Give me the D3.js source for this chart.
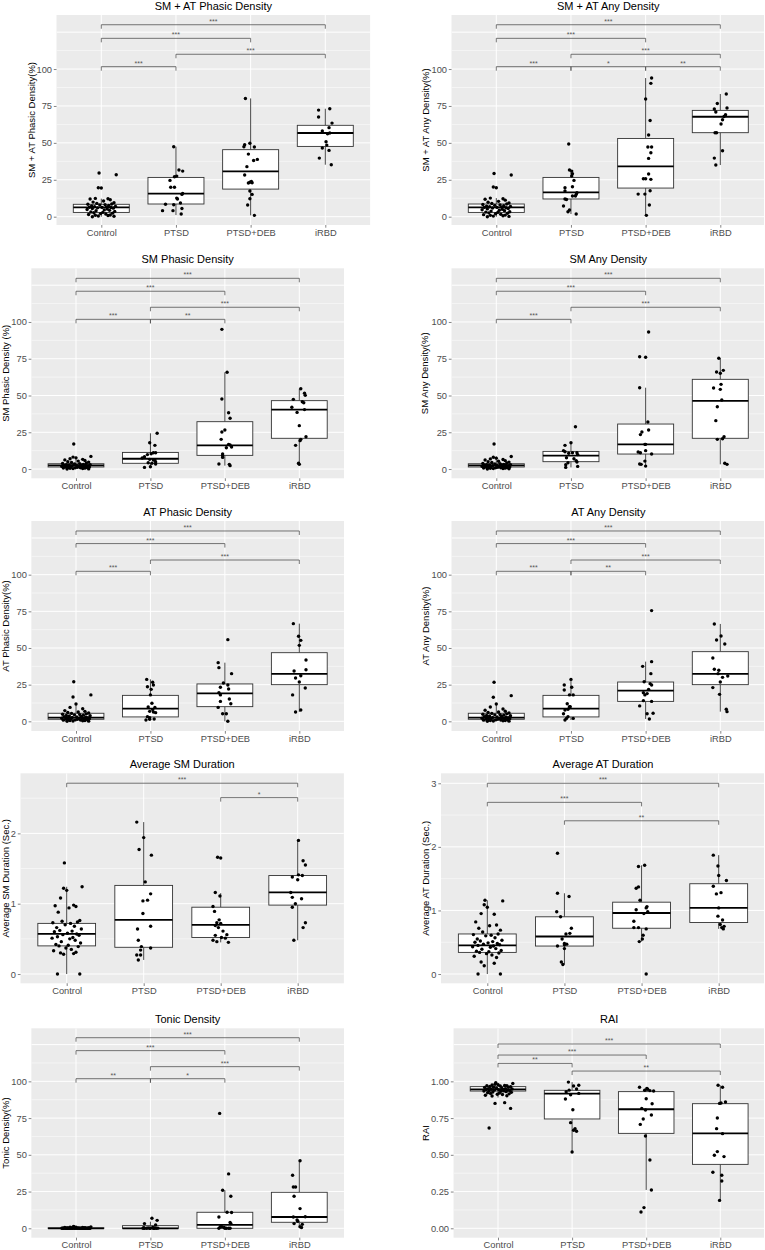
<!DOCTYPE html>
<html><head><meta charset="utf-8">
<script src="https://cdn.jsdelivr.net/npm/d3@7"></script>
<style>
body{margin:0;background:#fff}
svg{display:block}
text{font-family:"Liberation Sans",Arial,Helvetica,sans-serif}
</style>
</head><body>
<svg id="chart" width="765" height="1250"></svg>
<script>
// ---------------- DATA ----------------
const categories = ["Control", "PTSD", "PTSD+DEB", "iRBD"];
const titles = ["SM + AT Phasic Density","SM + AT Any Density","SM Phasic Density","SM Any Density",
  "AT Phasic Density","AT Any Density","Average SM Duration","Average AT Duration","Tonic Density","RAI"];
const yTitles = ["SM + AT Phasic Density(%)","SM + AT Any Density(%)","SM Phasic Density (%)","SM Any Density(%)",
  "AT Phasic Density(%)","AT Any Density(%)","Average SM Duration (Sec.)","Average AT Duration (Sec.)","Tonic Density(%)","RAI"];
const ticksPct = [0, 25, 50, 75, 100];
const ticksSM = [0, 1, 2];
const ticksAT = [0, 1, 2, 3];
const ticksRAI = [0, 0.25, 0.5, 0.75, 1];

// jitter offsets (fraction of category spacing) shared by the Control cluster, sorted by value desc
const controlJitter = [-0.03,0.20,-0.04,0.00,-0.08,0.09,-0.15,0.12,0.03,-0.11,0.17,-0.06,0.14,-0.18,0.05,-0.02,
  0.10,-0.13,0.19,-0.09,0.07,-0.16,0.01,0.13,-0.05,0.16,-0.12,0.08,-0.19,0.04,0.11,-0.07,0.18,-0.14,0.02,-0.10,
  0.15,-0.01,0.06,-0.17,0.12,-0.08,0.09,-0.04,0.17,-0.12];

// Panel 1: SM + AT Phasic Density
const smatPhasicControl = [29.6,28.4,19.6,19.4,12.4,12.2,12.0,11.5,10.6,9.9,9.5,9.0,8.6,8.4,8.2,7.9,7.6,7.3,7.0,6.8,6.6,6.4,6.3,6.2,6.0,5.8,5.5,5.2,4.9,4.6,4.3,4.0,3.6,3.2,2.9,2.7,2.4,2.1,1.8,1.5,1.2,1.0,0.8,0.5,0.3,0.0];
const smatPhasicPTSD = [[-0.03,47.4],[0.04,31.6],[0.09,30.9],[-0.02,27.1],[0.01,27.5],[-0.08,24.6],[-0.07,19.9],[-0.02,19.9],[0.09,15.8],[0.08,15.1],[0.01,12.6],[0.02,12.0],[-0.14,8.4],[0.06,9.3],[-0.03,8.1],[-0.04,4.1],[0.08,5.6],[-0.18,4.1],[0.07,1.8]];
const smatPhasicDEB = [[-0.07,80.1],[-0.01,49.7],[-0.08,48.8],[-0.09,47.4],[0.05,47.2],[-0.03,42.4],[0.09,38.8],[0.04,38.1],[-0.05,33.9],[-0.08,28.2],[-0.01,23.3],[0.01,23.9],[-0.03,22.8],[0.02,23.0],[-0.01,17.4],[0.02,15.1],[-0.01,12.2],[-0.04,7.9],[0.05,0.9]];
const smatPhasicIRBD = [[-0.09,72.2],[0.06,73.1],[-0.09,67.5],[0.09,63.4],[0.05,60.3],[-0.04,58.0],[0.03,56.2],[0.06,56.7],[0.01,50.8],[0.02,48.5],[-0.04,46.5],[0.05,44.9],[-0.08,39.7],[0.08,35.2]];
const smatPhasicBox = [[0,2.9,6.3,8.4,12.2],[1.1,8.6,15.6,26.6,47.4],[0.9,18.7,30.7,45.4,80.1],[35.2,47.6,56.7,61.9,73.1]];
const smatPhasicSig = [[1,4,130,"***"],[1,3,120.8,"***"],[2,4,110,"***"],[1,2,101.6,"***"]];

// Panel 2: SM + AT Any Density
const smatAnyControl = [29.3,28.2,20.1,19.6,12.6,12.2,11.8,11.2,10.4,9.8,9.3,8.9,8.6,8.3,8.0,7.7,7.4,7.1,6.9,6.7,6.5,6.3,6.3,6.1,5.9,5.6,5.3,5.0,4.7,4.4,4.1,3.8,3.4,3.1,2.9,2.6,2.3,2.0,1.7,1.4,1.1,0.9,0.6,0.4,0.2,0.0];
const smatAnyPTSD = [[-0.03,49.2],[-0.02,31.6],[0.01,30.9],[0.02,29.1],[0.01,27.5],[0.04,24.6],[-0.08,19.6],[0.02,20.3],[-0.08,17.4],[0.08,16.3],[0.07,15.1],[0.06,14.0],[0.02,14.0],[-0.08,12.0],[-0.06,11.7],[-0.10,7.2],[-0.02,4.5],[-0.04,3.4],[0.07,1.8]];
const smatAnyDEB = [[0.08,93.9],[0.07,90.3],[0.0,79.7],[0.06,65.2],[0.04,55.3],[0.03,47.2],[0.08,47.2],[0.07,43.3],[0.04,39.5],[0.04,28.9],[-0.03,25.7],[0.0,25.7],[0.07,25.3],[0.06,17.6],[-0.10,15.3],[-0.01,15.3],[0.05,7.9],[0.01,0.9]];
const smatAnyIRBD = [[0.08,83.1],[-0.04,76.7],[-0.08,72.9],[0.09,73.6],[-0.06,70.9],[0.07,69.1],[0.05,67.9],[0.03,65.7],[0.01,62.8],[-0.07,56.9],[-0.05,56.9],[0.03,44.7],[-0.08,39.7],[-0.06,35.0]];
const smatAnyBox = [[0,2.9,6.3,8.6,12.6],[1.8,12.0,16.5,26.6,31.6],[0.9,19.4,34.1,53.0,93.9],[35.0,56.9,67.7,72.0,83.1]];
const smatAnySig = [[1,4,130,"***"],[1,3,120.8,"***"],[2,4,110,"***"],[1,2,101.6,"***"],[2,3,101.6,"*"],[3,4,101.6,"**"]];

// Panel 3: SM Phasic Density
const smPhasicControl = [17.0,8.6,8.1,7.6,7.0,6.6,6.2,5.8,5.4,5.0,4.7,4.4,4.1,3.8,3.6,3.4,3.2,3.0,2.9,2.8,2.6,2.5,2.5,2.4,2.3,2.2,2.0,1.9,1.8,1.7,1.6,1.5,1.4,1.3,1.2,1.1,1.0,0.9,0.8,0.7,0.6,0.5,0.4,0.3,0.1,0.0];
const smPhasicPTSD = [[0.09,24.3],[-0.01,17.9],[0.06,16.1],[0.04,11.1],[0.07,11.1],[0.01,10.4],[-0.04,9.8],[-0.08,8.4],[-0.11,7.5],[-0.01,6.6],[0.06,6.1],[0.04,6.1],[0.07,4.8],[-0.03,4.3],[0.02,3.9],[0.07,3.4],[0.0,1.6],[-0.08,1.1]];
const smPhasicDEB = [[-0.04,95.0],[0.03,65.8],[-0.04,47.6],[0.05,38.3],[0.07,34.5],[0.0,26.5],[-0.04,25.2],[-0.05,20.2],[0.05,16.8],[0.07,16.3],[0.02,14.5],[0.09,15.0],[-0.03,10.2],[-0.03,9.1],[-0.03,7.9],[-0.08,3.4],[0.06,3.2],[0.07,2.3]];
const smPhasicIRBD = [[0.02,54.6],[-0.08,47.4],[0.07,51.5],[0.08,50.1],[0.04,45.8],[0.06,45.1],[-0.10,42.0],[0.07,40.4],[-0.03,38.5],[0.0,29.5],[0.09,22.0],[0.02,20.2],[0.01,19.3],[-0.05,16.1],[-0.01,3.9],[0.0,3.2]];
const smPhasicBox = [[0,1.4,2.5,3.6,8.6],[1.1,3.9,7.0,11.3,24.3],[2.3,9.3,16.1,32.2,65.8],[3.2,20.9,40.4,46.5,54.6]];
const smPhasicSig = [[1,4,129.7,"***"],[1,3,120.9,"***"],[2,4,110,"***"],[1,2,101.8,"***"],[2,3,101.8,"**"]];

// Panel 4: SM Any Density
const smAnyControl = [17.0,8.5,8.0,7.4,6.9,6.5,6.1,5.7,5.3,5.0,4.7,4.4,4.1,3.8,3.6,3.4,3.2,3.0,2.9,2.8,2.7,2.6,2.5,2.4,2.3,2.2,2.0,1.9,1.8,1.7,1.6,1.5,1.4,1.3,1.2,1.1,1.0,0.9,0.8,0.7,0.6,0.5,0.4,0.3,0.2,0.0];
const smAnyPTSD = [[0.06,28.8],[0.0,17.9],[-0.08,16.1],[-0.10,12.5],[-0.08,11.8],[0.02,11.1],[-0.03,10.7],[0.08,11.1],[0.09,9.8],[-0.06,7.7],[0.04,7.0],[0.07,5.7],[0.08,4.8],[-0.04,4.3],[-0.07,2.9],[-0.07,1.1],[0.09,1.8]];
const smAnyDEB = [[0.04,93.2],[-0.08,76.4],[0.0,76.0],[-0.08,55.3],[0.03,32.0],[0.04,26.5],[-0.05,25.2],[-0.07,23.4],[0.0,16.8],[-0.01,16.8],[-0.10,11.6],[-0.07,11.1],[0.0,12.5],[0.08,10.2],[-0.08,3.4],[-0.06,3.2],[-0.01,5.4],[0.0,2.0]];
const smAnyIRBD = [[-0.02,75.3],[-0.05,66.0],[0.0,65.1],[0.04,67.1],[0.01,57.6],[0.0,54.2],[-0.09,55.1],[0.02,46.9],[-0.04,42.4],[-0.06,32.9],[0.05,22.0],[0.03,20.6],[-0.04,20.2],[0.06,3.9],[0.09,3.2]];
const smAnyBox = [[0,1.4,2.5,3.6,8.5],[1.1,5.0,9.1,12.0,17.9],[2.0,10.2,16.8,30.6,55.3],[3.2,20.9,46.4,61.0,75.3]];
const smAnySig = [[1,4,129.7,"***"],[1,3,120.9,"***"],[2,4,110,"***"],[1,2,101.8,"***"]];

// Panel 5: AT Phasic Density
const atPhasicControl = [27.0,18.0,16.6,11.8,9.5,8.6,7.3,6.8,6.4,6.0,5.7,5.4,5.1,4.8,4.6,4.4,4.2,4.0,3.8,3.6,3.4,3.2,3.0,2.8,2.6,2.5,2.4,2.3,2.1,2.0,1.9,1.8,1.7,1.5,1.4,1.3,1.2,1.0,0.9,0.8,0.6,0.5,0.4,0.2,0.1,0.0];
const atPhasicPTSD = [[-0.05,28.6],[0.03,26.6],[-0.04,23.6],[0.04,24.8],[0.01,21.8],[0.0,18.0],[0.02,12.3],[0.06,9.5],[-0.03,9.8],[0.03,8.0],[-0.01,6.8],[0.04,6.4],[0.07,5.9],[-0.01,2.5],[-0.04,3.2],[-0.06,0.9],[-0.01,1.4],[0.05,1.6]];
const atPhasicDEB = [[0.04,55.7],[-0.09,40.0],[-0.08,36.6],[0.09,32.5],[-0.02,26.1],[0.04,24.8],[-0.06,23.2],[0.05,22.0],[-0.08,19.5],[-0.06,18.0],[0.06,15.2],[-0.06,13.6],[0.08,12.0],[-0.09,9.5],[-0.03,5.2],[0.02,5.2],[0.04,0.0]];
const atPhasicIRBD = [[-0.08,66.6],[-0.01,58.0],[0.02,55.2],[0.0,51.8],[0.09,41.8],[-0.07,34.3],[0.09,35.2],[0.02,31.1],[-0.05,29.5],[0.0,26.8],[0.08,22.7],[-0.09,18.0],[0.02,7.7],[-0.05,6.4]];
const atPhasicBox = [[0,1.4,2.5,5.5,11.8],[0.9,3.0,8.6,17.7,28.6],[0,10.0,19.1,25.5,40.0],[6.4,25.0,32.3,46.8,66.6]];
const atPhasicSig = [[1,4,129.8,"***"],[1,3,121.2,"***"],[2,4,110,"***"],[1,2,102.3,"***"]];

// Panel 6: AT Any Density
const atAnyControl = [26.6,17.5,16.4,11.8,9.8,8.4,7.5,6.9,6.4,6.0,5.7,5.4,5.1,4.8,4.6,4.4,4.2,4.0,3.8,3.6,3.4,3.2,3.0,2.8,2.6,2.5,2.4,2.3,2.1,2.0,1.9,1.8,1.7,1.5,1.4,1.3,1.2,1.0,0.9,0.8,0.6,0.5,0.4,0.2,0.1,0.0];
const atAnyPTSD = [[0.0,28.6],[-0.09,24.8],[0.01,23.2],[-0.09,21.4],[-0.02,18.0],[0.03,18.0],[-0.05,12.0],[-0.02,10.0],[-0.04,8.2],[-0.08,7.7],[-0.10,5.2],[-0.04,3.2],[0.03,2.0],[-0.08,0.9],[-0.06,2.0],[-0.01,10.0]];
const atAnyDEB = [[0.08,75.5],[0.08,40.7],[-0.04,37.5],[0.07,32.5],[-0.02,27.0],[0.06,25.7],[0.08,24.8],[0.04,21.8],[-0.03,19.5],[0.02,18.9],[-0.01,18.0],[-0.03,14.1],[0.08,13.6],[-0.08,10.5],[0.02,5.2],[0.10,5.5],[0.05,1.6]];
const atAnyIRBD = [[-0.08,66.4],[0.01,58.2],[-0.05,55.5],[0.06,52.7],[-0.10,43.2],[-0.08,35.5],[-0.02,34.8],[0.03,30.0],[0.10,30.9],[-0.03,32.5],[0.0,26.8],[-0.10,23.0],[-0.01,18.4],[0.08,8.2],[0.09,6.6]];
const atAnyBox = [[0,1.4,2.5,5.5,11.8],[0.9,3.0,8.6,17.7,28.6],[1.6,13.6,20.9,26.8,40.7],[6.6,25.0,32.3,47.5,66.4]];
const atAnySig = [[1,4,129.8,"***"],[1,3,121.2,"***"],[2,4,110,"***"],[1,2,102.3,"***"],[2,3,102.3,"**"]];

// Panel 7: Average SM Duration
const smDurControl = [1.58,1.24,1.22,1.19,1.08,0.98,0.97,0.96,0.94,0.88,0.76,0.75,0.74,0.73,0.72,0.70,0.68,0.66,0.64,0.62,0.61,0.60,0.58,0.57,0.56,0.55,0.53,0.52,0.51,0.50,0.48,0.46,0.44,0.42,0.41,0.40,0.39,0.37,0.35,0.33,0.31,0.30,0.29,0.28,0.0,0.0];
const smDurPTSD = [[-0.09,2.16],[0.0,1.94],[-0.06,1.77],[0.10,1.69],[0.02,1.31],[0.09,1.14],[0.05,1.05],[-0.01,1.04],[-0.01,0.86],[0.09,0.68],[-0.08,0.64],[-0.07,0.48],[-0.03,0.39],[0.09,0.37],[-0.04,0.34],[-0.09,0.27],[-0.04,0.27],[-0.07,0.20]];
const smDurDEB = [[-0.04,1.66],[0.0,1.65],[-0.07,1.16],[-0.01,1.11],[-0.10,0.96],[-0.08,0.89],[-0.02,0.77],[-0.05,0.73],[0.0,0.72],[-0.07,0.69],[-0.03,0.66],[0.03,0.61],[-0.07,0.55],[0.08,0.56],[0.01,0.52],[0.06,0.51],[-0.10,0.48],[-0.05,0.46],[0.10,0.45]];
const smDurIRBD = [[0.01,1.90],[0.07,1.61],[0.10,1.55],[0.06,1.40],[0.01,1.41],[-0.07,1.38],[0.0,1.34],[-0.09,1.16],[-0.07,1.09],[0.05,1.07],[-0.03,1.00],[-0.07,0.95],[0.10,0.73],[0.07,0.66],[-0.05,0.48]];
const smDurBox = [[0,0.40,0.57,0.72,1.24],[0.20,0.38,0.77,1.26,2.16],[0.45,0.52,0.70,0.95,1.15],[0.48,0.98,1.16,1.40,1.90]];
const smDurSig = [[1,4,2.713,"***"],[3,4,2.508,"*"]];

// Panel 8: Average AT Duration
const atDurControl = [1.16,1.15,1.09,1.05,0.95,0.94,0.82,0.77,0.76,0.72,0.69,0.66,0.63,0.62,0.61,0.60,0.57,0.55,0.53,0.52,0.51,0.50,0.49,0.48,0.47,0.46,0.45,0.44,0.43,0.42,0.40,0.39,0.37,0.36,0.35,0.34,0.33,0.32,0.30,0.28,0.26,0.19,0.17,0.13,0.0,0.0];
const atDurPTSD = [[-0.09,1.90],[-0.09,1.27],[0.06,1.22],[-0.10,0.98],[-0.05,0.90],[0.09,0.72],[0.07,0.64],[0.02,0.63],[-0.03,0.55],[0.0,0.48],[0.03,0.47],[0.0,0.46],[-0.09,0.44],[0.0,0.40],[-0.04,0.19],[-0.02,0.15]];
const atDurDEB = [[0.04,1.71],[-0.04,1.69],[-0.07,1.35],[-0.04,1.37],[-0.02,1.16],[0.07,1.06],[0.06,1.04],[-0.07,1.01],[0.08,0.98],[0.03,0.95],[-0.10,0.83],[-0.10,0.73],[-0.04,0.73],[0.06,0.71],[0.02,0.61],[0.01,0.55],[-0.03,0.51],[0.06,0.0]];
const atDurIRBD = [[-0.07,1.87],[-0.01,1.70],[0.0,1.55],[0.10,1.47],[-0.07,1.38],[0.03,1.28],[-0.03,1.26],[0.0,1.04],[-0.01,0.91],[0.05,0.85],[0.02,0.78],[0.04,0.73],[0.07,0.75],[0.06,0.71]];
const atDurBox = [[0,0.34,0.45,0.63,1.16],[0.15,0.44,0.59,0.90,1.27],[0.51,0.72,0.96,1.13,1.71],[0.71,0.81,1.04,1.42,1.87]];
const atDurSig = [[1,4,3.0,"***"],[1,3,2.70,"***"],[2,4,2.41,"**"]];

// Panel 9: Tonic Density
const tonicControl = [1.2,1.0,0.9,0.8,0.7,0.6,0.5,0.4,0.3,0.3,0.2,0.2,0.1,0.1,0,0,0,0,0,0,0,0,0,0,0,0,0,0,0,0,0,0,0,0,0,0,0,0,0,0,0,0,0,0,0,0];
const tonicPTSD = [[0.02,6.8],[0.09,5.4],[-0.08,3.2],[0.07,2.3],[-0.10,0.0],[-0.08,0.0],[-0.03,0.3],[0.0,0.0],[0.05,0.0],[0.08,0.0],[-0.05,0.0],[0.03,0.5],[-0.01,0.0],[0.06,0.2],[-0.09,0.4],[0.04,0.0],[0.10,0.1]];
const tonicDEB = [[-0.07,78.2],[0.05,37.0],[-0.03,25.9],[0.08,21.8],[0.03,10.9],[0.09,10.7],[-0.08,7.7],[-0.06,1.1],[-0.04,1.1],[0.07,3.9],[0.08,3.2],[-0.01,0.5],[0.02,0.0],[0.05,0.0],[0.07,0.0],[-0.08,0.0],[0.0,0.0]];
const tonicIRBD = [[0.01,46.0],[-0.09,36.1],[-0.08,28.1],[-0.05,28.1],[-0.07,21.8],[0.01,13.4],[-0.08,7.7],[0.08,7.9],[-0.03,5.7],[-0.02,4.8],[0.04,2.7],[-0.07,3.2],[0.01,1.1],[0.03,0.5]];
const tonicBox = [[0,0,0,0.3,0.7],[0,0,0,1.8,4.5],[0,0,2.3,10.9,25.9],[0.5,4.1,7.7,24.5,46.0]];
const tonicSig = [[1,4,129.7,"***"],[1,3,120.9,"***"],[2,4,110,"***"],[1,2,101.8,"**"],[2,3,101.8,"*"]];

// Panel 10: RAI
const raiControl = [0.99,0.985,0.98,0.978,0.975,0.972,0.97,0.97,0.968,0.965,0.963,0.96,0.96,0.958,0.955,0.953,0.95,0.95,0.948,0.946,0.945,0.945,0.943,0.94,0.94,0.938,0.936,0.935,0.934,0.932,0.93,0.928,0.925,0.922,0.92,0.918,0.915,0.912,0.91,0.905,0.902,0.9,0.855,0.85,0.816,0.683];
const raiPTSD = [[-0.05,0.995],[0.02,0.968],[0.09,0.973],[-0.08,0.930],[-0.04,0.940],[0.06,0.948],[0.09,0.918],[-0.02,0.909],[-0.09,0.880],[0.01,0.807],[-0.02,0.719],[0.04,0.678],[0.02,0.667],[0.06,0.660],[0.0,0.519]];
const raiDEB = [[-0.09,0.960],[0.01,0.952],[0.02,0.946],[0.05,0.937],[0.10,0.934],[-0.02,0.939],[0.0,0.882],[0.08,0.848],[-0.06,0.816],[-0.01,0.805],[0.07,0.771],[-0.04,0.744],[-0.08,0.707],[-0.01,0.628],[0.05,0.465],[0.07,0.261],[-0.03,0.141],[-0.07,0.111]];
const raiIRBD = [[-0.03,0.973],[0.03,0.960],[-0.01,0.850],[0.01,0.853],[0.07,0.859],[-0.04,0.751],[-0.05,0.678],[0.03,0.644],[-0.04,0.522],[-0.08,0.497],[0.05,0.488],[-0.10,0.381],[0.02,0.361],[0.02,0.322],[-0.01,0.190]];
const raiBox = [[0.89,0.934,0.946,0.964,0.99],[0.519,0.744,0.916,0.939,0.995],[0.261,0.646,0.81,0.93,0.96],[0.19,0.435,0.646,0.848,0.973]];
const raiSig = [[1,4,1.254,"***"],[1,3,1.179,"***"],[1,2,1.122,"**"],[2,4,1.07,"**"]];

// ---------------- LAYOUT (pixels) ----------------
const layouts = [
  {cx:[101.3,325.3], y0:15, y1:225, dom:[-5.62,136.6], ylabX:32},
  {cx:[496.3,720.3], y0:15, y1:225, dom:[-5.62,136.6], ylabX:426},
  {cx:[76,299.3], y0:268.3, y1:478.3, dom:[-6.3,136.5], ylabX:6},
  {cx:[496.3,720.3], y0:268.3, y1:478.3, dom:[-6.3,136.5], ylabX:425},
  {cx:[76,299.3], y0:521, y1:731, dom:[-6.6,136.6], ylabX:6},
  {cx:[496.3,720.3], y0:521, y1:731, dom:[-6.6,136.6], ylabX:426},
  {cx:[66.7,297.7], y0:773.3, y1:983.3, dom:[-0.132,2.854], ylabX:6},
  {cx:[487.3,718.7], y0:773.3, y1:983.3, dom:[-0.146,3.157], ylabX:426},
  {cx:[76,299.3], y0:1028.3, y1:1237.7, dom:[-6.4,136.1], ylabX:6},
  {cx:[498,720.3], y0:1028.3, y1:1237.7, dom:[-0.064,1.361], ylabX:426}
];

const panels = [
  {ctrl:smatPhasicControl, groups:[smatPhasicPTSD,smatPhasicDEB,smatPhasicIRBD], box:smatPhasicBox, sig:smatPhasicSig, ticks:ticksPct, step:25, fmt:d=>d},
  {ctrl:smatAnyControl, groups:[smatAnyPTSD,smatAnyDEB,smatAnyIRBD], box:smatAnyBox, sig:smatAnySig, ticks:ticksPct, step:25, fmt:d=>d},
  {ctrl:smPhasicControl, groups:[smPhasicPTSD,smPhasicDEB,smPhasicIRBD], box:smPhasicBox, sig:smPhasicSig, ticks:ticksPct, step:25, fmt:d=>d},
  {ctrl:smAnyControl, groups:[smAnyPTSD,smAnyDEB,smAnyIRBD], box:smAnyBox, sig:smAnySig, ticks:ticksPct, step:25, fmt:d=>d},
  {ctrl:atPhasicControl, groups:[atPhasicPTSD,atPhasicDEB,atPhasicIRBD], box:atPhasicBox, sig:atPhasicSig, ticks:ticksPct, step:25, fmt:d=>d},
  {ctrl:atAnyControl, groups:[atAnyPTSD,atAnyDEB,atAnyIRBD], box:atAnyBox, sig:atAnySig, ticks:ticksPct, step:25, fmt:d=>d},
  {ctrl:smDurControl, groups:[smDurPTSD,smDurDEB,smDurIRBD], box:smDurBox, sig:smDurSig, ticks:ticksSM, step:1, fmt:d=>d},
  {ctrl:atDurControl, groups:[atDurPTSD,atDurDEB,atDurIRBD], box:atDurBox, sig:atDurSig, ticks:ticksAT, step:1, fmt:d=>d},
  {ctrl:tonicControl, groups:[tonicPTSD,tonicDEB,tonicIRBD], box:tonicBox, sig:tonicSig, ticks:ticksPct, step:25, fmt:d=>d},
  {ctrl:raiControl, groups:[raiPTSD,raiDEB,raiIRBD], box:raiBox, sig:raiSig, ticks:ticksRAI, step:0.25, fmt:d3.format(".2f")}
];

// ---------------- DRAW ----------------
const svg = d3.select("#chart");
svg.append("rect").attr("width",765).attr("height",1250).attr("fill","#fff");

panels.forEach((P, pi) => {
  const L = layouts[pi];
  const x = d3.scalePoint().domain(categories).range(L.cx);
  const st = x.step();
  const y = d3.scaleLinear().domain(L.dom).range([L.y1, L.y0]);
  const x0 = x(categories[0]) - 0.6*st;
  const x1full = x(categories[3]) + 0.6*st;
  const x1 = Math.min(x1full, 764);
  const g = svg.append("g");
  const cid = "clip" + pi;
  svg.append("clipPath").attr("id", cid).append("rect")
    .attr("x", x0).attr("y", L.y0).attr("width", x1 - x0).attr("height", L.y1 - L.y0);

  g.append("rect").attr("x", x0).attr("y", L.y0).attr("width", x1 - x0).attr("height", L.y1 - L.y0).attr("fill", "#EBEBEB");

  const pg = g.append("g").attr("clip-path", `url(#${cid})`);
  // horizontal grid
  const half = P.step / 2;
  for (let k = Math.ceil(L.dom[0] / half); k * half <= L.dom[1]; k++) {
    const v = k * half, yy = y(v);
    pg.append("line").attr("x1", x0).attr("x2", x1).attr("y1", yy).attr("y2", yy)
      .attr("stroke", "#fff").attr("stroke-width", k % 2 === 0 ? 1.0 : 0.5);
  }
  categories.forEach(c => {
    pg.append("line").attr("x1", x(c)).attr("x2", x(c)).attr("y1", L.y0).attr("y2", L.y1)
      .attr("stroke", "#fff").attr("stroke-width", 1.0);
  });

  // boxes
  const bw = 0.75 * st;
  P.box.forEach((b, i) => {
    const cx = x(categories[i]);
    pg.append("line").attr("x1", cx).attr("x2", cx).attr("y1", y(b[3])).attr("y2", y(b[4])).attr("stroke", "#333").attr("stroke-width", 0.9);
    pg.append("line").attr("x1", cx).attr("x2", cx).attr("y1", y(b[1])).attr("y2", y(b[0])).attr("stroke", "#333").attr("stroke-width", 0.9);
    pg.append("rect").attr("x", cx - bw/2).attr("y", y(b[3])).attr("width", bw).attr("height", Math.max(0, y(b[1]) - y(b[3])))
      .attr("fill", "#fff").attr("stroke", "#333").attr("stroke-width", 0.9);
    pg.append("line").attr("x1", cx - bw/2).attr("x2", cx + bw/2).attr("y1", y(b[2])).attr("y2", y(b[2]))
      .attr("stroke", "#000").attr("stroke-width", 1.8);
  });

  // points
  const pts = [];
  P.ctrl.forEach((v, i) => pts.push({c: categories[0], j: controlJitter[i % controlJitter.length], v}));
  P.groups.forEach((grp, gi) => grp.forEach(d => pts.push({c: categories[gi + 1], j: d[0], v: d[1]})));
  pg.selectAll("circle.pt").data(pts).enter().append("circle")
    .attr("cx", d => x(d.c) + d.j * st).attr("cy", d => y(d.v)).attr("r", 1.7).attr("fill", "#000");

  // significance brackets
  P.sig.forEach(s => {
    const xa = x(categories[s[0]-1]), xb = x(categories[s[1]-1]), yy = y(s[2]);
    pg.append("path").attr("d", `M${xa},${yy+4}L${xa},${yy}L${xb},${yy}L${xb},${yy+4}`)
      .attr("fill", "none").attr("stroke", "#4a4a4a").attr("stroke-width", 0.75);
    pg.append("text").attr("x", (xa + xb) / 2).attr("y", yy - 1).attr("text-anchor", "middle")
      .attr("font-size", 7).attr("fill", "#555").text(s[3]);
  });

  // axes
  const ya = g.append("g").attr("transform", `translate(${x0},0)`)
    .call(d3.axisLeft(y).tickValues(P.ticks).tickSize(2.7).tickPadding(1.8).tickFormat(P.fmt));
  ya.select(".domain").remove();
  ya.selectAll("line").attr("stroke", "#333").attr("stroke-width", 0.6);
  ya.selectAll("text").attr("fill", "#4D4D4D").attr("font-size", 9.3).attr("font-family", '"Liberation Sans",Arial,sans-serif');

  const xa = g.append("g").attr("transform", `translate(0,${L.y1})`)
    .call(d3.axisBottom(x).tickSize(2.7).tickPadding(1.3));
  xa.select(".domain").remove();
  xa.selectAll("line").attr("stroke", "#333").attr("stroke-width", 0.6);
  xa.selectAll("text").attr("fill", "#4D4D4D").attr("font-size", 9.3).attr("font-family", '"Liberation Sans",Arial,sans-serif');

  // title
  g.append("text").attr("x", (x0 + x1full) / 2).attr("y", L.y0 - 5.5).attr("text-anchor", "middle")
    .attr("font-size", 11).attr("fill", "#000").text(titles[pi]);
  // y title
  g.append("text").attr("transform", `translate(${L.ylabX},${(L.y0 + L.y1) / 2}) rotate(-90)`)
    .attr("text-anchor", "middle").attr("dy", "0.35em").attr("font-size", 9.5).attr("fill", "#000").text(yTitles[pi]);
});
</script>
</body></html>
